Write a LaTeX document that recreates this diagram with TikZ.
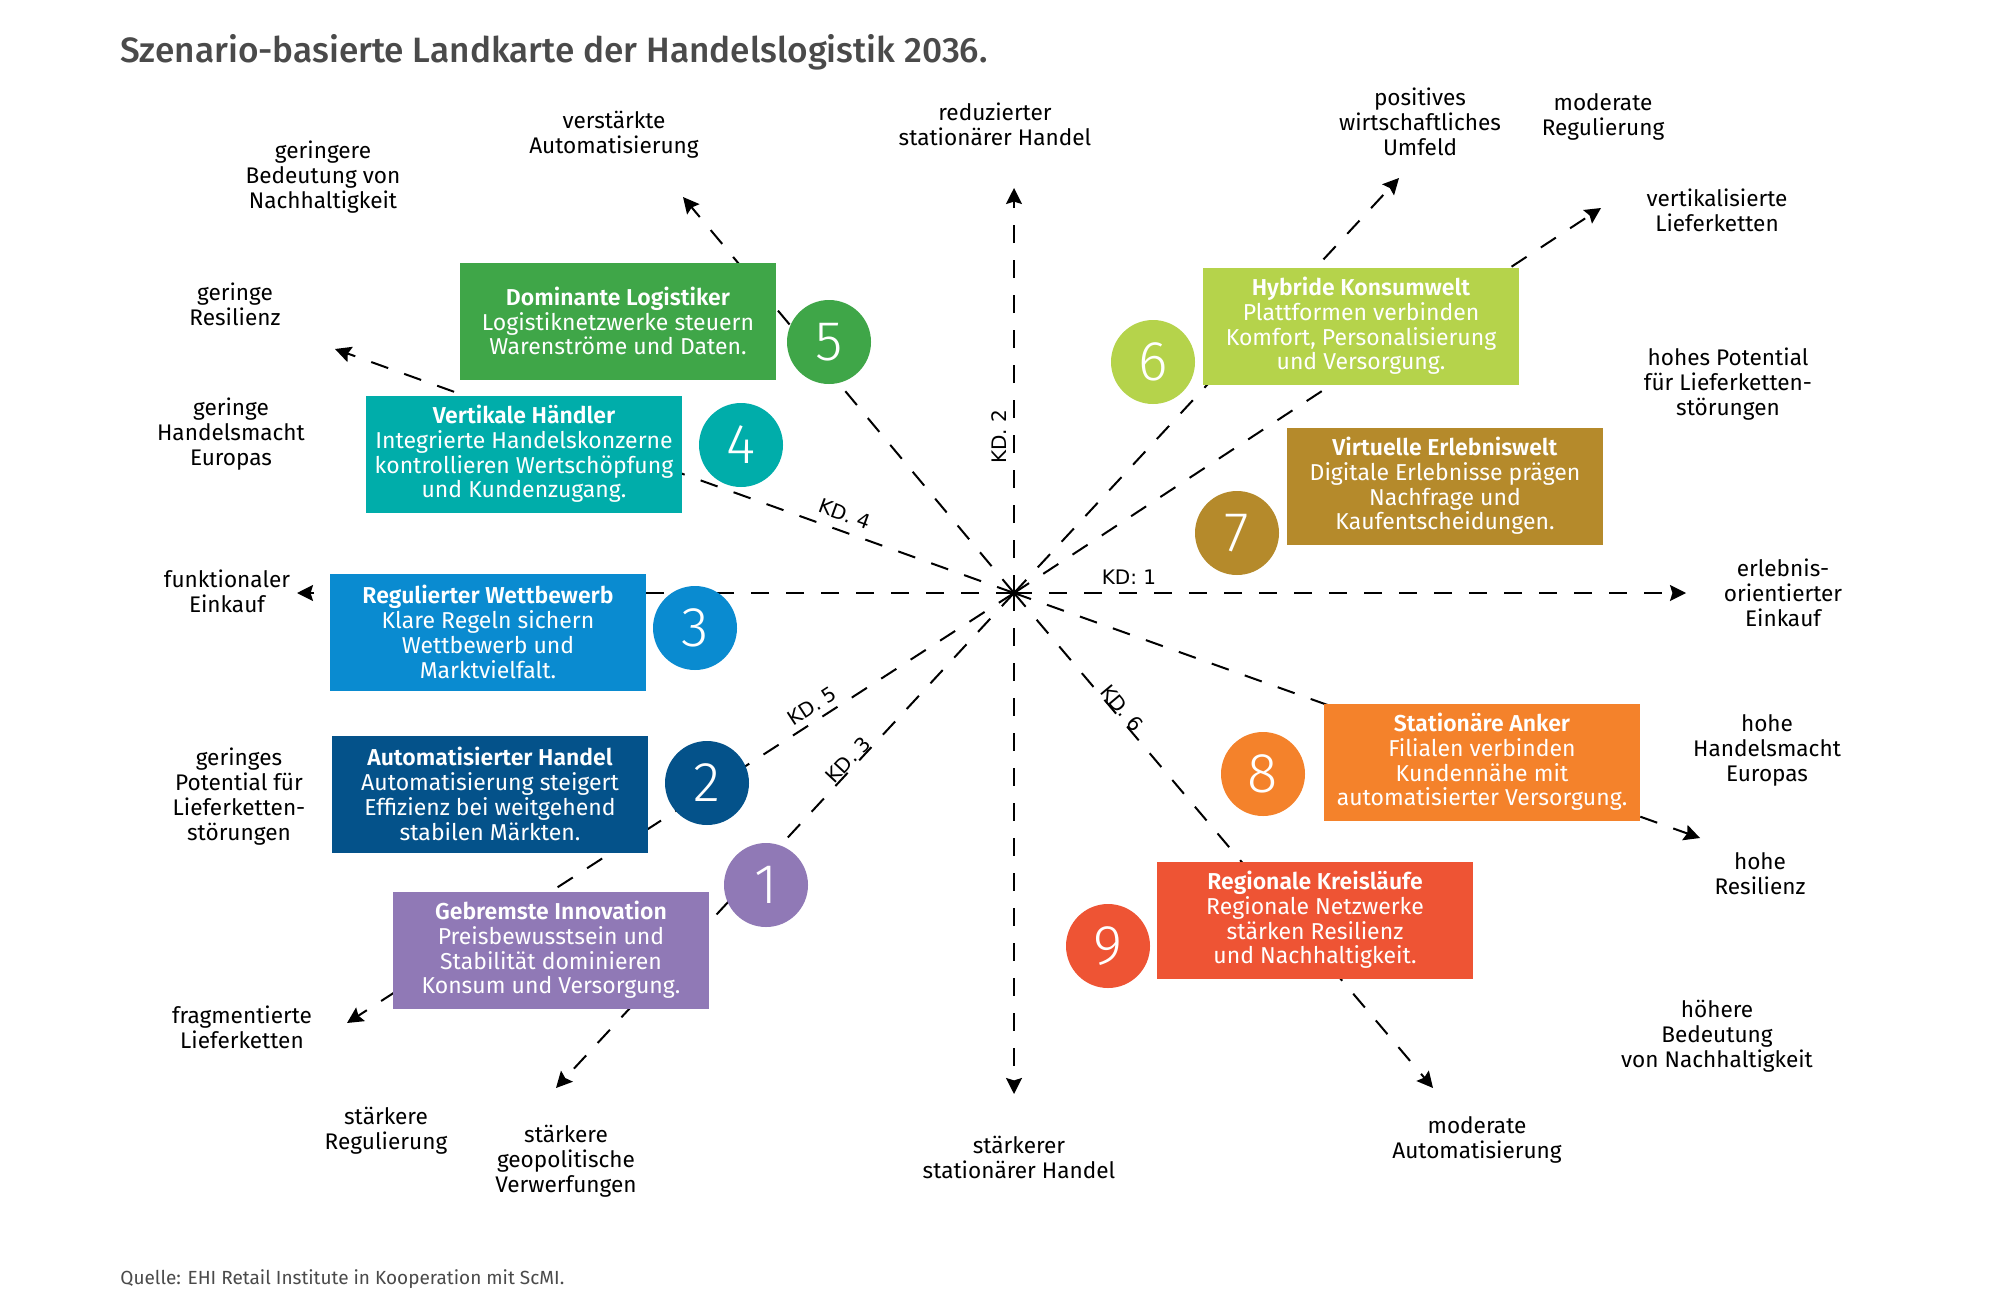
\documentclass[tikz,border=0pt]{standalone}
\usepackage{fontspec}
\setmainfont{Fira Sans}[BoldFont={Fira Sans SemiBold}]
\newfontfamily\kdfont{DejaVu Sans}
\newfontfamily\titlefont{Fira Sans Medium}
\newfontfamily\numfont{Fira Sans Light}
\usetikzlibrary{arrows.meta}
\definecolor{cone}{HTML}{9079B6}
\definecolor{ctwo}{HTML}{04528A}
\definecolor{cthree}{HTML}{0A8BD0}
\definecolor{cfour}{HTML}{00ADAA}
\definecolor{cfive}{HTML}{3FA648}
\definecolor{csix}{HTML}{B5D34B}
\definecolor{cseven}{HTML}{B58A2B}
\definecolor{ceight}{HTML}{F4822B}
\definecolor{cnine}{HTML}{EE5434}
\definecolor{titlegray}{HTML}{4A4A4A}
\begin{document}
\begin{tikzpicture}[x=0.5pt,y=-0.5pt,
  axisline/.style={line width=1pt, dash pattern=on 9pt off 8.5pt,
    -{Stealth[length=8pt,width=8pt,inset=1.2pt]}},
  scen/.style={fill=#1, text=white, minimum width=158pt, minimum height=58.5pt,
    inner sep=0pt, align=center, font=\fontsize{11.5}{12.4}\selectfont},
  num/.style={circle, fill=#1, text=white, minimum size=42pt, inner sep=0pt,
    font=\numfont\fontsize{28}{28}\selectfont},
  lbl/.style={align=center, inner sep=0pt, font=\fontsize{11.3}{12.5}\selectfont},
  kd/.style={inner sep=0pt, font=\kdfont\fontsize{10}{12}\selectfont}]
\fill[white] (0,0) rectangle (2000,1311);
\useasboundingbox (0,0) rectangle (2000,1311);

% title and source
\node[anchor=base west, inner sep=0pt, text=titlegray, font=\titlefont\fontsize{17.6}{20}\selectfont] (title) at (120,63) {Szenario-basierte Landkarte der Handelslogistik 2036.};
\node[anchor=base west, inner sep=0pt, text=titlegray, font=\fontsize{9.5}{11}\selectfont] (source) at (120,1284) {Quelle: EHI Retail Institute in Kooperation mit ScMI.};

% axis end points
\coordinate (c) at (1014,593);
\coordinate (kd1l) at (297,593);
\coordinate (kd1r) at (1686,593);
\coordinate (kd2t) at (1014,188);
\coordinate (kd2b) at (1014,1094);
\coordinate (kd3ll) at (556,1088);
\coordinate (kd3ur) at (1399,178);
\coordinate (kd4ul) at (335,349);
\coordinate (kd4lr) at (1700,838);
\coordinate (kd5ll) at (347,1023);
\coordinate (kd5ur) at (1601,208);
\coordinate (kd6ul) at (683,197);
\coordinate (kd6lr) at (1433,1088);

\foreach \e in {kd1l,kd1r,kd2t,kd2b,kd3ll,kd3ur,kd4ul,kd4lr,kd5ll,kd5ur,kd6ul,kd6lr}
  \draw[axisline] (c) -- (\e);

% axis labels
\node[kd] (l1) at (1129,577) {KD: 1};
\node[kd, rotate=90] (l2) at (999,437) {KD. 2};
\node[kd, rotate=47] (l3) at (848,760) {KD. 3};
\node[kd, rotate=-20] (l4) at (845,514) {KD. 4};
\node[kd, rotate=33] (l5) at (812,706) {KD. 5};
\node[kd, rotate=-50] (l6) at (1122,708) {KD. 6};

% scenario boxes
\node[scen=cone] (b1) at (551,950) {\textbf{Gebremste Innovation}\\Preisbewusstsein und\\Stabilität dominieren\\Konsum und Versorgung.};
\node[scen=ctwo] (b2) at (490,794) {\textbf{Automatisierter Handel}\\Automatisierung steigert\\Effizienz bei weitgehend\\stabilen Märkten.};
\node[scen=cthree] (b3) at (488,632) {\textbf{Regulierter Wettbewerb}\\Klare Regeln sichern\\Wettbewerb und\\Marktvielfalt.};
\node[scen=cfour] (b4) at (524,454) {\textbf{Vertikale Händler}\\Integrierte Handelskonzerne\\kontrollieren Wertschöpfung\\und Kundenzugang.};
\node[scen=cfive] (b5) at (618,321) {\textbf{Dominante Logistiker}\\Logistiknetzwerke steuern\\Warenströme und Daten.};
\node[scen=csix] (b6) at (1361,326) {\textbf{Hybride Konsumwelt}\\Plattformen verbinden\\Komfort, Personalisierung\\und Versorgung.};
\node[scen=cseven] (b7) at (1445,486) {\textbf{Virtuelle Erlebniswelt}\\Digitale Erlebnisse prägen\\Nachfrage und\\Kaufentscheidungen.};
\node[scen=ceight] (b8) at (1482,762) {\textbf{Stationäre Anker}\\Filialen verbinden\\Kundennähe mit\\automatisierter Versorgung.};
\node[scen=cnine] (b9) at (1315,920) {\textbf{Regionale Kreisläufe}\\Regionale Netzwerke\\stärken Resilienz\\und Nachhaltigkeit.};

% number circles
\node[num=cone] (n1) at (766,885) {1};
\node[num=ctwo] (n2) at (707,783) {2};
\node[num=cthree] (n3) at (695,628) {3};
\node[num=cfour] (n4) at (741,445) {4};
\node[num=cfive] (n5) at (829,342) {5};
\node[num=csix] (n6) at (1153,362) {6};
\node[num=cseven] (n7) at (1237,533) {7};
\node[num=ceight] (n8) at (1263,774) {8};
\node[num=cnine] (n9) at (1108,946) {9};

% pole labels
\node[lbl] (p1) at (614,135) {verstärkte\\Automatisierung};
\node[lbl] (p2) at (323,177) {geringere\\Bedeutung von\\Nachhaltigkeit};
\node[lbl] (p3) at (995,124) {reduzierter\\stationärer Handel};
\node[lbl] (p4) at (1420,122) {positives\\wirtschaftliches\\Umfeld};
\node[lbl] (p5) at (1603,117) {moderate\\Regulierung};
\node[lbl] (p6) at (1717,210) {vertikalisierte\\Lieferketten};
\node[lbl] (p7) at (1728,384) {hohes Potential\\für Lieferketten-\\störungen};
\node[lbl] (p8) at (1783,593) {erlebnis-\\orientierter\\Einkauf};
\node[lbl] (p9) at (1767,750) {hohe\\Handelsmacht\\Europas};
\node[lbl] (p10) at (1760,874) {hohe\\Resilienz};
\node[lbl] (p11) at (1717,1036) {höhere\\Bedeutung\\von Nachhaltigkeit};
\node[lbl] (p12) at (1477,1140) {moderate\\Automatisierung};
\node[lbl] (p13) at (1019,1157) {stärkerer\\stationärer Handel};
\node[lbl] (p14) at (566,1161) {stärkere\\geopolitische\\Verwerfungen};
\node[lbl] (p15) at (386,1131) {stärkere\\Regulierung};
\node[lbl] (p16) at (242,1027) {fragmentierte\\Lieferketten};
\node[lbl] (p17) at (239,797) {geringes\\Potential für\\Lieferketten-\\störungen};
\node[lbl] (p18) at (227,591) {funktionaler\\Einkauf};
\node[lbl] (p19) at (231,434) {geringe\\Handelsmacht\\Europas};
\node[lbl] (p20) at (235,304) {geringe\\Resilienz};
\end{tikzpicture}
\end{document}
